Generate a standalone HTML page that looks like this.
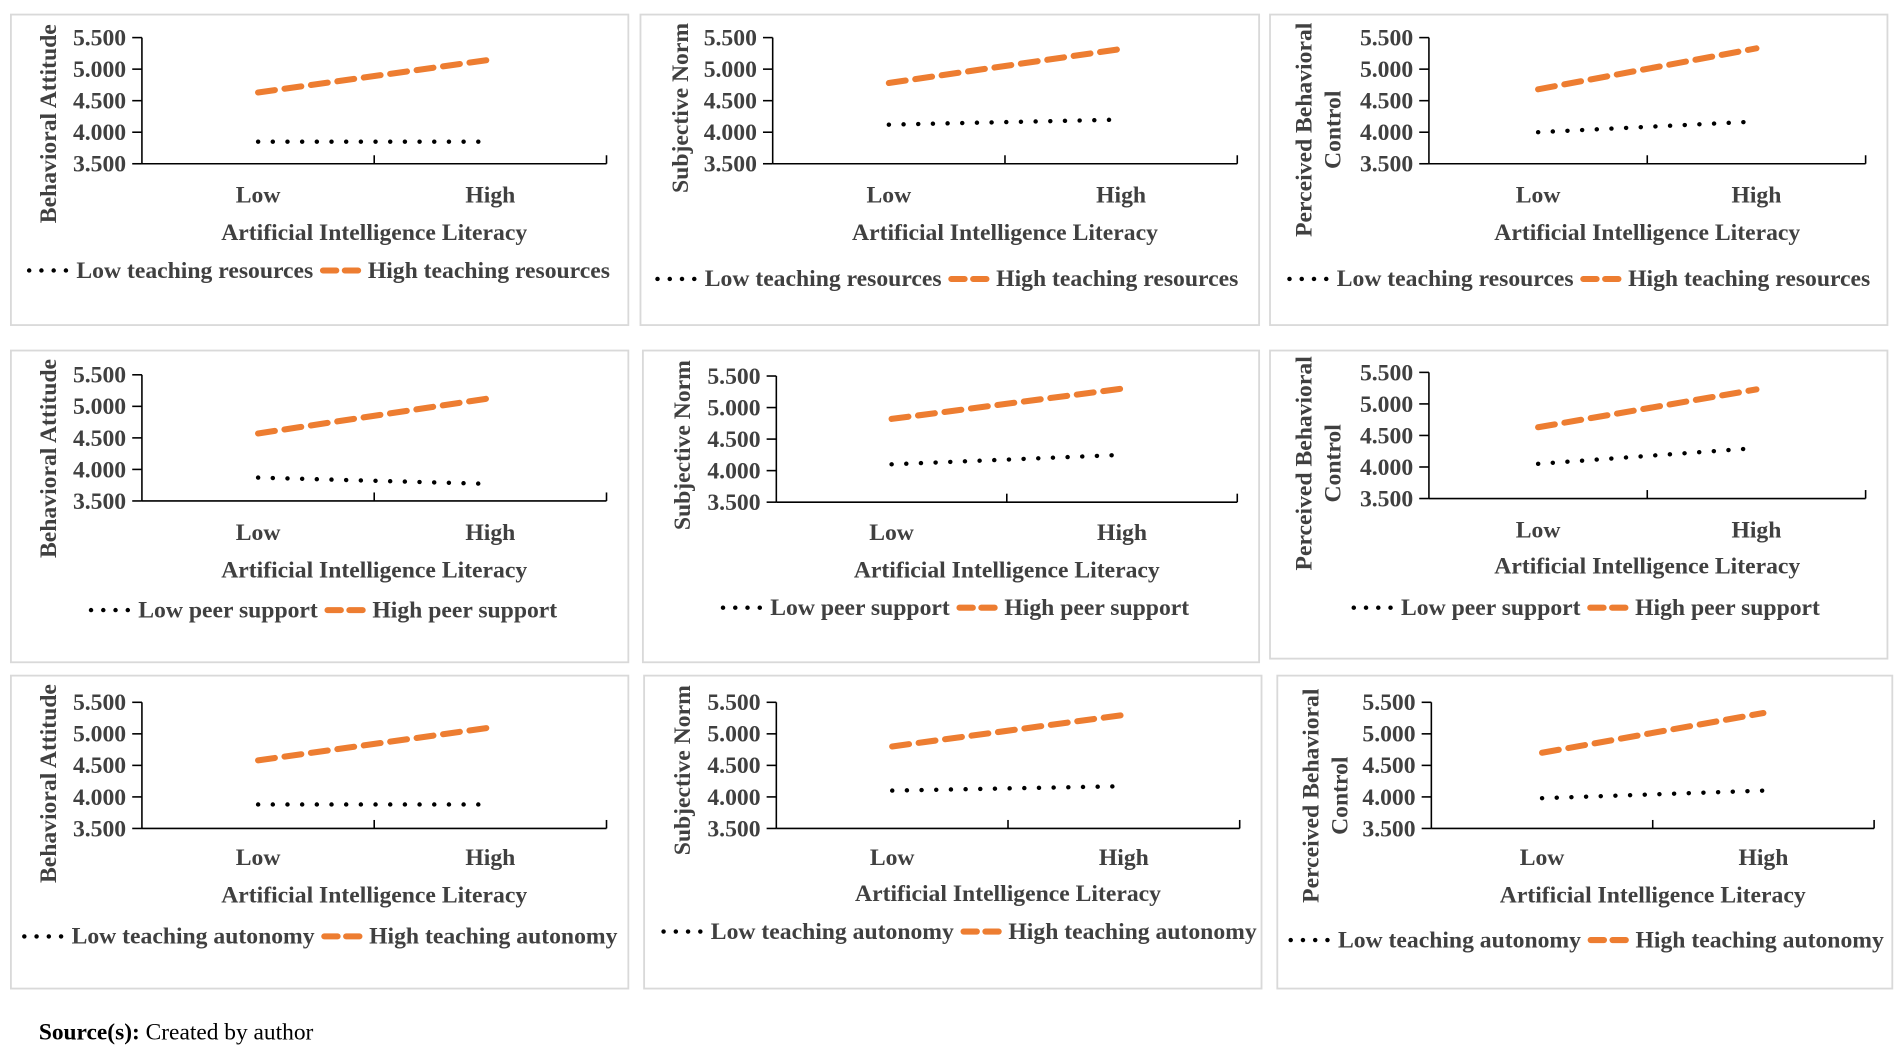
<!DOCTYPE html>
<html><head><meta charset="utf-8"><style>
html,body{margin:0;padding:0;background:#fff;}
svg{display:block;}
text{font-family:"Liberation Serif",serif;font-weight:bold;fill:#404040;}
</style></head><body>
<svg id="fig" width="1902" height="1052" viewBox="0 0 1568 867.3" preserveAspectRatio="none" xmlns="http://www.w3.org/2000/svg">
<text x="32" y="857" style="font-size:19.3px;fill:#000">Source(s):<tspan style="font-weight:normal"> Created by author</tspan></text>
</svg>
<script>
const categories = ["Low", "High"];
const yTicks = [3.5, 4.0, 4.5, 5.0, 5.5];
const tickLabels = ["3.500", "4.000", "4.500", "5.000", "5.500"];
const lowSeries = [[3.85,3.85],[4.12,4.20],[4.00,4.17],[3.87,3.77],[4.10,4.25],[4.05,4.30],[3.88,3.88],[4.10,4.17],[3.98,4.10]];
const highSeries = [[4.63,5.15],[4.78,5.32],[4.68,5.33],[4.57,5.13],[4.82,5.30],[4.63,5.23],[4.58,5.10],[4.80,5.30],[4.70,5.33]];
const yTitles = ["Behavioral Attitude","Subjective Norm","Perceived Behavioral|Control","Behavioral Attitude","Subjective Norm","Perceived Behavioral|Control","Behavioral Attitude","Subjective Norm","Perceived Behavioral|Control"];
const lowNames = ["Low teaching resources","Low teaching resources","Low teaching resources","Low peer support","Low peer support","Low peer support","Low teaching autonomy","Low teaching autonomy","Low teaching autonomy"];
const highNames = ["High teaching resources","High teaching resources","High teaching resources","High peer support","High peer support","High peer support","High teaching autonomy","High teaching autonomy","High teaching autonomy"];

const layout = [
 {b:[9,12,518,268],ax:117,ax1:500,top:31,bot:135,cl:167,tt:198,lg:229,lx:22,yt:46,yc:102},
 {b:[528,12,1038,268],ax:637,ax1:1020,top:31,bot:135,cl:167,tt:198,lg:236,lx:540,yt:567,yc:89},
 {b:[1047,12,1556,268],ax:1178,ax1:1538,top:31,bot:135,cl:167,tt:198,lg:236,lx:1061,yt:1087,yc:107},
 {b:[9,289,518,546],ax:117,ax1:500,top:309,bot:413,cl:445,tt:476,lg:509,lx:73,yt:46,yc:378},
 {b:[530,289,1038,546],ax:640,ax1:1020,top:310,bot:414,cl:445,tt:476,lg:507,lx:594,yt:569,yc:367},
 {b:[1047,289,1556,543],ax:1178,ax1:1538,top:307,bot:411,cl:443,tt:473,lg:507,lx:1114,yt:1087,yc:382},
 {b:[9,557,518,815],ax:117,ax1:500,top:579,bot:683,cl:713,tt:744,lg:778,lx:18,yt:46,yc:646},
 {b:[531,557,1040,815],ax:640,ax1:1022,top:579,bot:683,cl:713,tt:743,lg:774,lx:545,yt:569,yc:635},
 {b:[1053,557,1560,815],ax:1180,ax1:1545,top:579,bot:683,cl:713,tt:744,lg:781,lx:1062,yt:1093,yc:656}
];
const FS=19.5;
const NS="http://www.w3.org/2000/svg";
const svg=document.getElementById('fig');
function mk(tag,attrs,parent){const e=document.createElementNS(NS,tag);for(const k in attrs)e.setAttribute(k,attrs[k]);(parent||svg).appendChild(e);return e;}
layout.forEach((L,i)=>{
  const g=mk('g',{});
  
  
  const box=mk('rect',{x:L.b[0],y:L.b[1],width:L.b[2]-L.b[0],height:L.b[3]-L.b[1],fill:'#fff',stroke:'#d9d9d9','stroke-width':1.5},g);
  
  
  const yS=v=>L.bot-(v-3.5)/2*(L.bot-L.top);
  const xS=c=>L.ax+(L.ax1-L.ax)*(0.25+0.5*c);
  const ya=mk('line',{x1:L.ax,y1:L.top,x2:L.ax,y2:L.bot,stroke:'#000','stroke-width':1.3},g);
  
  
  const xa=mk('line',{x1:L.ax,y1:L.bot,x2:L.ax1,y2:L.bot,stroke:'#000','stroke-width':1.3},g);
  
  
  [L.ax+(L.ax1-L.ax)/2,L.ax1].forEach(x=>mk('line',{x1:x,y1:L.bot,x2:x,y2:L.bot-7,stroke:'#000','stroke-width':1.3},g));
  yTicks.forEach((v,k)=>{
    mk('line',{x1:L.ax-8,y1:yS(v),x2:L.ax,y2:yS(v),stroke:'#000','stroke-width':1.3},g);
    const t=mk('text',{x:L.ax-13,y:yS(v)+6.5,'text-anchor':'end','font-size':FS},g);
    t.textContent=tickLabels[k];
    
    
  });
  categories.forEach((c,k)=>{
    const t=mk('text',{x:xS(k),y:L.cl,'text-anchor':'middle','font-size':FS},g);
    t.textContent=c;
    
    
  });
  const xt=mk('text',{x:(L.ax+L.ax1)/2,y:L.tt,'text-anchor':'middle','font-size':FS},g);
  xt.textContent='Artificial Intelligence Literacy';
  
  
  const parts=yTitles[i].split('|');
  const cy=L.yc;
  parts.forEach((p,k)=>{
    const xx=L.yt+(parts.length>1?(k*24-6):0);
    const t=mk('text',{x:xx,y:cy,'text-anchor':'middle','font-size':FS,transform:`rotate(-90 ${xx} ${cy})`},g);
    t.textContent=p;
    
    
  });
  const lo=lowSeries[i], hi=highSeries[i];
  const hl=mk('line',{x1:xS(0),y1:yS(hi[0]),x2:xS(1),y2:yS(hi[1]),stroke:'#ED7D31','stroke-width':5,'stroke-dasharray':'14 8','stroke-linecap':'round'},g);
  
  
  const ll=mk('line',{x1:xS(0),y1:yS(lo[0]),x2:xS(1),y2:yS(lo[1]),stroke:'#000','stroke-width':3.6,'stroke-dasharray':'0.1 12','stroke-linecap':'round'},g);
  
  
  const lx=L.lx, ly=L.lg;
  const ld=mk('line',{x1:lx+2,y1:ly-6,x2:lx+34,y2:ly-6,stroke:'#000','stroke-width':3.6,'stroke-dasharray':'0.1 10','stroke-linecap':'round'},g);
  
  
  const lt=mk('text',{x:lx+41,y:ly,'font-size':FS},g);
  lt.textContent=lowNames[i];
  
  
  const w=lt.getComputedTextLength();
  const hx=lx+41+w+6;
  const hd=mk('line',{x1:hx+2,y1:ly-6,x2:hx+32,y2:ly-6,stroke:'#ED7D31','stroke-width':5,'stroke-dasharray':'11 7','stroke-linecap':'round'},g);
  
  
  const ht=mk('text',{x:hx+39,y:ly,'font-size':FS},g);
  ht.textContent=highNames[i];
  
  
});
</script>
</body></html>
